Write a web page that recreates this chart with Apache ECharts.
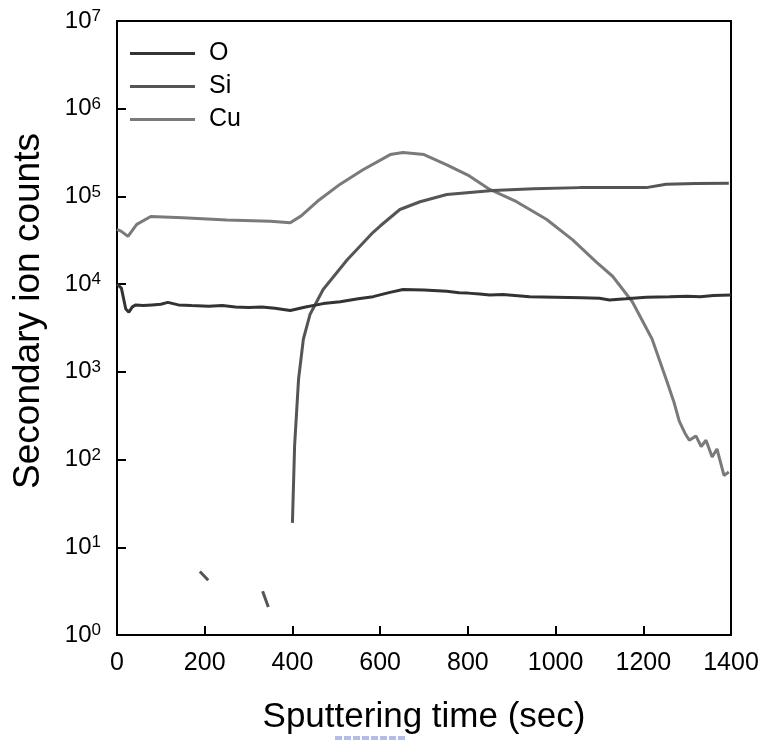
<!DOCTYPE html>
<html>
<head>
<meta charset="utf-8">
<script src="https://cdn.jsdelivr.net/npm/echarts@6/dist/echarts.min.js"></script>
<style>html,body{margin:0;padding:0;background:#fff}#c{width:766px;height:740px}</style>
</head>
<body>
<div id="c"></div>
<script>
var seriesNames = ['O', 'Si', 'Cu'];
var xTicks = [0, 200, 400, 600, 800, 1000, 1200, 1400];
var yTickExponents = [0, 1, 2, 3, 4, 5, 6, 7];

var oData = [
  [0, 10000], [10, 9000], [20, 5200], [27, 4800], [35, 5500], [43, 5800], [60, 5700],
  [80, 5800], [100, 5900], [116, 6200], [140, 5800], [170, 5700], [209, 5600], [240, 5700],
  [270, 5500], [300, 5400], [330, 5500], [360, 5300], [395, 5000], [430, 5500],
  [470, 6000], [509, 6300], [550, 6800], [584, 7200], [620, 8000], [652, 8700],
  [700, 8600], [752, 8300], [780, 8000], [800, 7900], [827, 7700], [850, 7500], [880, 7600],
  [941, 7200], [1000, 7100], [1060, 7000], [1100, 6900], [1123, 6600], [1160, 6800],
  [1207, 7100], [1260, 7200], [1300, 7300], [1330, 7200], [1360, 7400], [1400, 7500]
];

var siData = [
  [189, 5.3], [208, 4.2], [270, '-'], [332, 3.16], [345, 2.08], [372, '-'],
  [400, 19], [405, 145], [414, 830], [425, 2370], [440, 4500], [470, 8700],
  [525, 19000], [584, 39000], [600, 46000], [645, 71000], [691, 87000],
  [752, 105000], [857, 117000], [950, 122000], [1055, 126000], [1150, 126000],
  [1207, 126000], [1252, 138000], [1320, 140000], [1395, 141000]
];

var cuData = [
  [0, 42000], [10, 40000], [25, 35000], [45, 48000], [77, 59000], [150, 57000],
  [250, 54000], [350, 52000], [395, 50000], [420, 60000], [457, 88000], [509, 138000],
  [560, 200000], [623, 300000], [652, 316000], [700, 300000], [752, 229000],
  [800, 175000], [850, 120000], [911, 87000], [979, 55000], [1039, 32000],
  [1093, 17800], [1130, 12300], [1175, 6300], [1220, 2370], [1252, 830], [1270, 450],
  [1282, 275], [1295, 200], [1305, 166], [1320, 186], [1332, 141], [1343, 166],
  [1357, 107], [1368, 132], [1384, 66], [1395, 72]
];

var colors = ['#333333', '#555555', '#7a7a7a'];
var font = 'Liberation Sans, Arial, sans-serif';

var chart = echarts.init(document.getElementById('c'), null, {renderer: 'canvas'});
chart.setOption({
  animation: false,
  backgroundColor: '#ffffff',
  grid: {left: 117, right: 35, top: 21, bottom: 104, show: true, borderColor: '#000', borderWidth: 2, backgroundColor: 'transparent'},
  legend: {
    data: seriesNames.map(function (n) { return {name: n, icon: 'rect'}; }),
    orient: 'vertical', left: 125, top: 36,
    itemWidth: 65, itemHeight: 3, itemGap: 8,
    textStyle: {fontFamily: font, fontSize: 25, color: '#000', padding: [0, 0, 0, 9], lineHeight: 22}
  },
  xAxis: {
    type: 'value', min: xTicks[0], max: xTicks[xTicks.length - 1], interval: 200,
    name: 'Sputtering time (sec)', nameLocation: 'middle', nameGap: 65,
    nameTextStyle: {fontFamily: font, fontSize: 35, color: '#000'},
    axisLine: {show: true, lineStyle: {color: '#000', width: 2}},
    axisTick: {show: true, inside: true, length: 9, lineStyle: {color: '#000', width: 2}},
    axisLabel: {fontFamily: font, fontSize: 25, color: '#000', margin: 16, formatter: function (v) { return String(v); }},
    splitLine: {show: false}
  },
  yAxis: {
    type: 'log', logBase: 10, min: Math.pow(10, yTickExponents[0]), max: Math.pow(10, yTickExponents[yTickExponents.length - 1]),
    name: 'Secondary ion counts', nameLocation: 'middle', nameGap: 70,
    nameTextStyle: {fontFamily: font, fontSize: 37, color: '#000', padding: [0, 0, 0, 34]},
    axisLine: {show: true, lineStyle: {color: '#000', width: 2}},
    axisTick: {show: true, inside: true, length: 9, lineStyle: {color: '#000', width: 2}},
    axisLabel: {
      margin: 16, color: '#000',
      formatter: function (v) { return '{b|10}{s|' + Math.round(Math.log10(v)) + '}'; },
      rich: {
        b: {fontFamily: font, fontSize: 24, color: '#000', lineHeight: 26},
        s: {fontFamily: font, fontSize: 17, color: '#000', verticalAlign: 'top', lineHeight: 17, padding: [0, 0, 6, 0]}
      }
    },
    splitLine: {show: false}
  },
  graphic: [{
    type: 'line', shape: {x1: 335, y1: 738, x2: 405, y2: 738},
    style: {stroke: '#b4bcea', lineWidth: 4, lineDash: [7, 2]}
  }],
  series: [
    {name: seriesNames[0], type: 'line', data: oData, symbol: 'none', lineStyle: {color: colors[0], width: 3}, itemStyle: {color: colors[0]}, z: 3},
    {name: seriesNames[1], type: 'line', data: siData, symbol: 'none', connectNulls: false, lineStyle: {color: colors[1], width: 3}, itemStyle: {color: colors[1]}, z: 2},
    {name: seriesNames[2], type: 'line', data: cuData, symbol: 'none', lineStyle: {color: colors[2], width: 3}, itemStyle: {color: colors[2]}, z: 1}
  ]
});
</script>
</body>
</html>
